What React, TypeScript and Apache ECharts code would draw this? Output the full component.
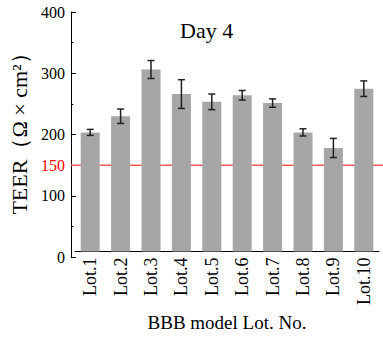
import React, { useEffect, useRef } from "react";
import * as echarts from "echarts";

const categories = ["Lot.1", "Lot.2", "Lot.3", "Lot.4", "Lot.5", "Lot.6", "Lot.7", "Lot.8", "Lot.9", "Lot.10"];
const teer = [199, 226, 304, 263, 250, 261, 248, 199, 173, 272];
const sd = [5, 12, 15, 24, 13, 8, 7, 6, 16, 13];
const threshold = 150;
const titleText = "Day 4";
const yName = "TEER（Ω × cm²）";
const xName = "BBB model Lot. No.";

const FONT = "Liberation Serif";

export default function App() {
  const ref = useRef<HTMLDivElement>(null);
  useEffect(() => {
    if (!ref.current) return;
    const chart = echarts.init(ref.current, undefined, { renderer: "svg" });
    const errData = categories.map((c, i) => [i, teer[i] - sd[i], teer[i] + sd[i]]);
    chart.setOption({
      animation: false,
      backgroundColor: "#fff",
      textStyle: { fontFamily: FONT, color: "#000" },
      title: {
        text: titleText,
        left: 175,
        top: 14,
        textStyle: { fontFamily: FONT, fontSize: 22, fontWeight: "normal", color: "#000" },
      },
      grid: [
        { left: 75, right: 4, top: 12, bottom: 80 },
        { left: 62, right: 0, top: 12, bottom: 80 },
      ],
      xAxis: [
        {
          type: "category",
          gridIndex: 0,
          data: categories,
          axisLine: { show: true, lineStyle: { color: "#000", width: 1 } },
          axisTick: { show: false },
          axisLabel: { rotate: 90, fontSize: 18, color: "#000", margin: 6, fontFamily: FONT, interval: 0 },
          name: xName,
          nameLocation: "middle",
          nameGap: 59,
          nameTextStyle: { fontSize: 19, color: "#000", fontFamily: FONT },
        },
        { type: "value", gridIndex: 1, min: 0, max: 1, show: false },
      ],
      yAxis: [
        { type: "value", gridIndex: 0, min: 0, max: 400, show: false },
        {
          type: "value",
          gridIndex: 1,
          position: "left",
          min: 0,
          max: 400,
          interval: 100,
          axisLine: { show: true, lineStyle: { color: "#000", width: 1 } },
          axisTick: { show: true, inside: true, length: 5, lineStyle: { color: "#000" } },
          minorTick: { show: true, splitNumber: 2, length: 2.5, lineStyle: { color: "#000" } },
          splitLine: { show: false },
          axisLabel: { fontSize: 16, color: "#000", margin: 6, fontFamily: FONT },
          name: yName,
          nameLocation: "middle",
          nameGap: 32,
          nameTextStyle: { fontSize: 22, color: "#000", fontFamily: FONT, padding: [0, 0, 0, 12] },
        },
        {
          type: "value",
          gridIndex: 1,
          position: "left",
          min: 0,
          max: 400,
          interval: 50,
          axisLine: { show: false },
          axisTick: { show: false },
          splitLine: { show: false },
          axisLabel: {
            fontSize: 16,
            color: "#ff0000",
            margin: 6,
            fontFamily: FONT,
            formatter: (v: number) => (v === threshold ? String(threshold) : ""),
          },
        },
      ],
      series: [
        {
          type: "line",
          xAxisIndex: 1,
          yAxisIndex: 1,
          data: [
            [0, threshold],
            [1, threshold],
          ],
          symbol: "none",
          z: 1,
          lineStyle: { color: "#ff5a5a", width: 1.5 },
          silent: true,
        },
        {
          type: "bar",
          xAxisIndex: 0,
          yAxisIndex: 0,
          data: teer,
          barWidth: 19,
          z: 2,
          itemStyle: { color: "#a6a6a6" },
        },
        {
          type: "custom",
          xAxisIndex: 0,
          yAxisIndex: 0,
          z: 3,
          data: errData,
          renderItem: (params: any, api: any) => {
            const x = api.value(0);
            const lo = api.coord([x, api.value(1)]);
            const hi = api.coord([x, api.value(2)]);
            const hw = 3.5;
            const style = { stroke: "#222", lineWidth: 1.5 };
            return {
              type: "group",
              children: [
                { type: "line", shape: { x1: lo[0], y1: lo[1], x2: hi[0], y2: hi[1] }, style },
                { type: "line", shape: { x1: lo[0] - hw, y1: lo[1], x2: lo[0] + hw, y2: lo[1] }, style },
                { type: "line", shape: { x1: hi[0] - hw, y1: hi[1], x2: hi[0] + hw, y2: hi[1] }, style },
              ],
            };
          },
        },
      ],
    });
    return () => chart.dispose();
  }, []);
  return <div ref={ref} style={{ width: 383, height: 337, position: "absolute", left: 0, top: 0 }} />;
}
